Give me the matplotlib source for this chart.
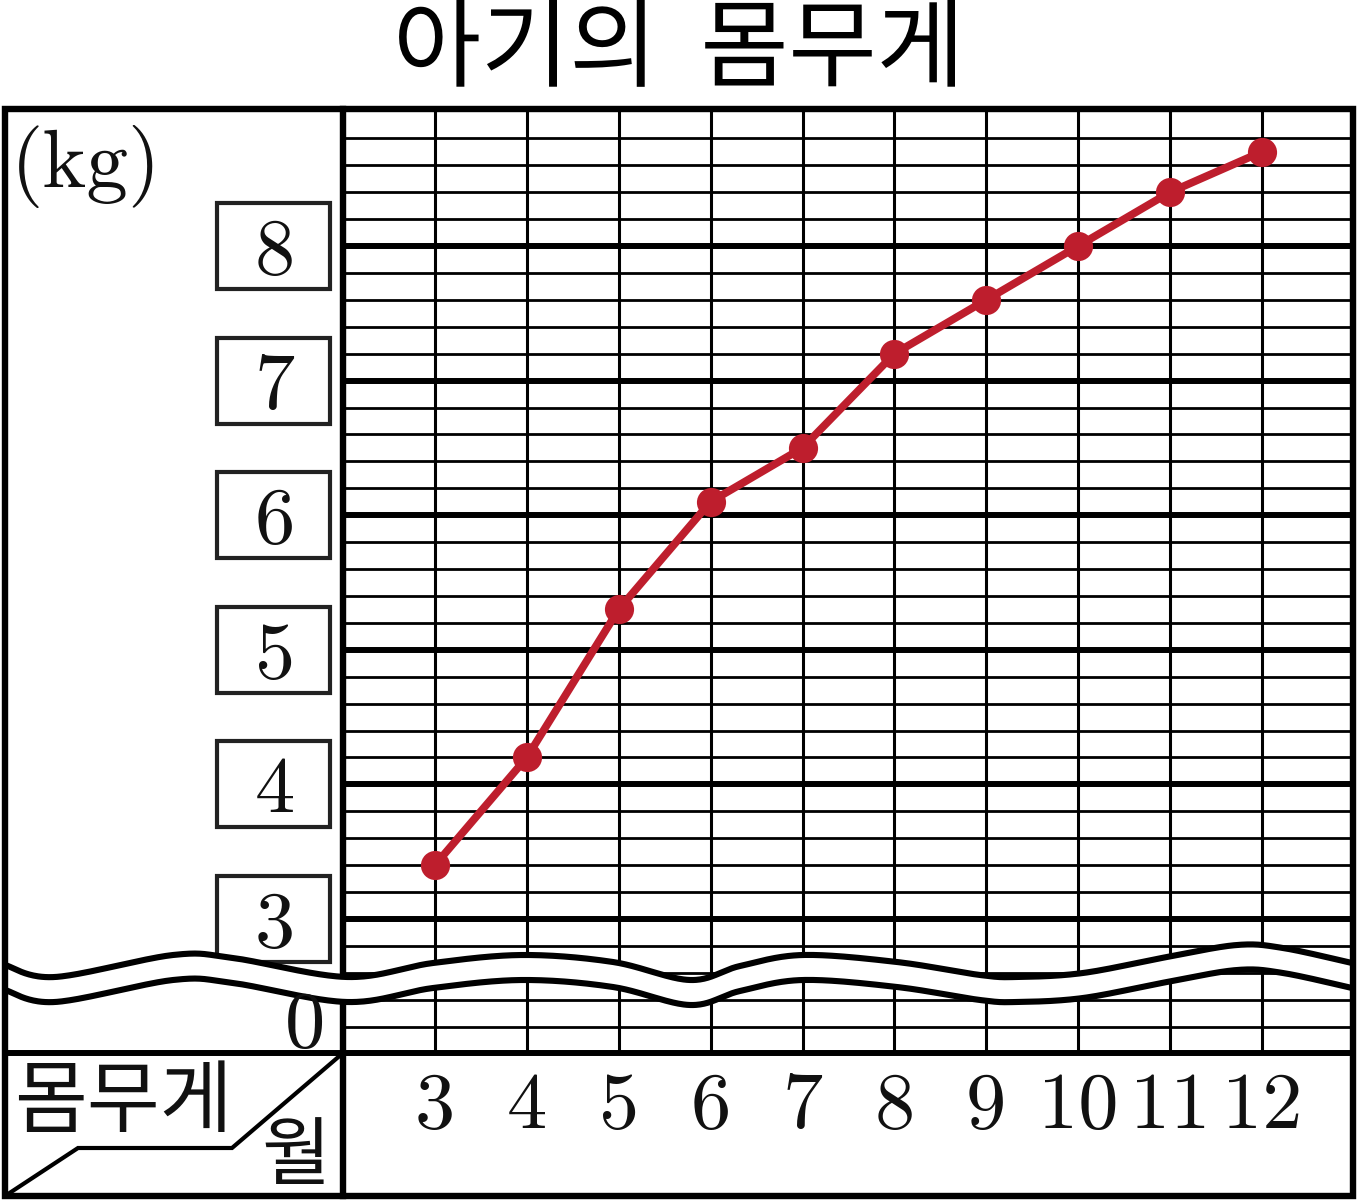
import numpy as np
import matplotlib
matplotlib.use("Agg")
import matplotlib.pyplot as plt
from matplotlib.patches import Rectangle, Polygon
from matplotlib.lines import Line2D

# ---------------- data ----------------
months = [3, 4, 5, 6, 7, 8, 9, 10, 11, 12]
weights = [3.4, 4.2, 5.3, 6.1, 6.5, 7.2, 7.6, 8.0, 8.4, 8.7]
month_labels = [str(m) for m in months]
kg_ticks = [3, 4, 5, 6, 7, 8]
kg_labels = [str(v) for v in kg_ticks]
zero_label = "0"
unit_label = "(kg)"
title_text = "아기의  몸무게"
corner_row = "몸무게"
corner_col = "월"

KR = ["Noto Sans CJK KR", "DejaVu Sans"]
SERIF = ["cmr10", "DejaVu Serif"]
RED = "#BE1E2D"

W, H = 1358, 1202
fig = plt.figure(figsize=(W / 100, H / 100), dpi=100)

def fx(px):
    return px / W

def fy(py):
    return 1 - py / H

# main plotting area: month 2 .. 13, weight 2 .. 9 (broken axis below 3)
X0, X1 = 343.0, 1353.9
Y_TOP, Y_BOT = 111.4, 1053.6
ax = fig.add_axes([fx(X0), fy(Y_BOT), fx(X1) - fx(X0), fy(Y_TOP) - fy(Y_BOT)])
ax.set_xlim(2, 13)
ax.set_ylim(2, 9.0)
ax.set_axis_off()
ax.set_zorder(1)

minor = [round(v, 1) for v in np.arange(2.2, 9.0, 0.2)]
for v in minor:
    if abs(v - round(v)) < 1e-6:
        continue
    ax.axhline(v, color="black", lw=2.0, zorder=1)
for v in kg_ticks:
    ax.axhline(v, color="black", lw=4.3, zorder=2)
for m in months:
    ax.axvline(m, color="black", lw=2.2, zorder=2)

ax.plot(months, weights, color=RED, lw=5.6, marker="o", ms=21,
        markeredgewidth=0, zorder=6, clip_on=False)

# overlay in pixel coordinates
ov = fig.add_axes([0, 0, 1, 1])
ov.set_xlim(0, W)
ov.set_ylim(H, 0)
ov.set_axis_off()
ov.patch.set_alpha(0)
ov.set_zorder(3)

def ypix(v):
    return H - ax.transData.transform((2, v))[1]

def xpix(m):
    return ax.transData.transform((m, 2))[0]

# y labels in boxes
for v, lab in zip(kg_ticks, kg_labels):
    yc = ypix(v)
    ov.add_patch(Rectangle((217, yc - 43), 113, 86, fill=False, ec="#222222",
                           lw=3.0, zorder=1))
    ov.text(275, yc + 28, lab, family=SERIF, fontsize=58, ha="center",
            va="baseline", color="#111111", zorder=2)

# wave (break mark)
wave = [(5, 965), (55, 977), (173, 955), (233, 958), (347, 977), (433, 963),
        (523, 955), (613, 962), (690, 980), (740, 966),
        (803, 955), (897, 962), (980, 975), (1017, 977), (1083, 973),
        (1167, 957), (1237, 945), (1283, 948), (1352, 963)]

def catmull(points, n=40):
    p = np.array(points, dtype=float)
    p = np.vstack([p[0], p, p[-1]])
    out = []
    for i in range(1, len(p) - 2):
        p0, p1, p2, p3 = p[i - 1], p[i], p[i + 1], p[i + 2]
        t = np.linspace(0, 1, n, endpoint=False)[:, None]
        seg = 0.5 * ((2 * p1) + (-p0 + p2) * t + (2 * p0 - 5 * p1 + 4 * p2 - p3) * t ** 2
                     + (-p0 + 3 * p1 - 3 * p2 + p3) * t ** 3)
        out.append(seg)
    out.append(p[-2][None, :])
    return np.vstack(out)

up = catmull(wave)
gap = 25
lo = up.copy()
lo[:, 1] += gap
poly = np.vstack([up, lo[::-1]])
ov.add_patch(Polygon(poly, closed=True, fc="white", ec="none", zorder=3))
ov.plot(up[:, 0], up[:, 1], color="black", lw=4.4, zorder=4,
        solid_capstyle="butt")
ov.plot(lo[:, 0], lo[:, 1], color="black", lw=4.4, zorder=4,
        solid_capstyle="butt")

# frame and dividers
FL, FR, FT, FB = 5, 1353, 109, 1196
ov.add_patch(Rectangle((FL, FT), FR - FL, FB - FT, fill=False, ec="black",
                       lw=4.6, zorder=6))
ov.add_line(Line2D([X0, X0], [FT, FB], color="black", lw=4.6, zorder=2))
ov.add_line(Line2D([FL, FR], [1053, 1053], color="black", lw=4.3, zorder=5))

# corner diagonal
ov.add_line(Line2D([X0, 232, 78, FL], [1053, 1148, 1148, FB], color="black",
                   lw=3.0, zorder=5, solid_joinstyle="miter"))
ov.text(123, 1104, corner_row, family=KR, fontsize=57, ha="center",
        va="center", color="#111111", zorder=5)
ov.text(296, 1158, corner_col, family=KR, fontsize=54, ha="center",
        va="center", color="#111111", zorder=5)

# month labels
for m, lab in zip(months, month_labels):
    ov.text(xpix(m), 1128, lab, family=SERIF, fontsize=58, ha="center",
            va="baseline", color="#111111", zorder=5)

# zero and unit
ov.text(305, 1047, zero_label, family=SERIF, fontsize=58, ha="center",
        va="baseline", color="#111111", zorder=5)
ov.text(11, 187, unit_label, family=SERIF, fontsize=60, ha="left",
        va="baseline", color="#111111", zorder=5)

# title
ov.text(679, 50, title_text, family=KR, fontsize=69, fontweight="light",
        ha="center", va="center", color="black", zorder=5)

fig.savefig("out.png", dpi=100)
